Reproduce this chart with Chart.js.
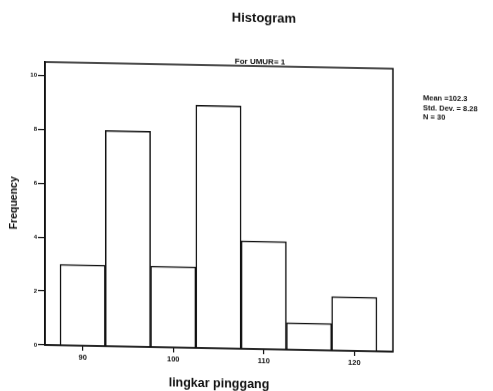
<!DOCTYPE html>
<html>
<head>
<meta charset="utf-8">
<script src="https://cdn.jsdelivr.net/npm/chart.js@4/dist/chart.umd.min.js"></script>
<style>
    html, body { margin: 0; padding: 0; background: #fff; overflow: hidden; }
    #wrap { width: 493px; height: 391px; }
    /* the printed page sits slightly askew */
    #chart { transform: skewY(1.1deg); transform-origin: 45px 0; }
</style>
</head>
<body>
<div id="wrap"><canvas id="chart" width="493" height="391"></canvas></div>
<script>
// bin midpoints (cm) and counts per bin
const binCenters = [90, 95, 100, 105, 110, 115, 120];
const counts = [3, 8, 3, 9, 4, 1, 2];
const xTicks = [90, 100, 110, 120];
const yTicks = [0, 2, 4, 6, 8, 10];
const statsLines = ['Mean =102.3', 'Std. Dev. = 8.28', 'N = 30'];

const FONT = '"Liberation Sans", Arial, sans-serif';

// frame around the plot plus the header and summary texts
const framePlugin = {
    id: 'frame',
    afterDraw(chart) {
        const { ctx, chartArea: a } = chart;
        ctx.save();
        ctx.strokeStyle = '#111';
        ctx.lineWidth = 1.5;
        ctx.strokeRect(a.left, a.top, a.right - a.left, a.bottom - a.top);

        ctx.fillStyle = '#111';
        ctx.textBaseline = 'middle';
        ctx.textAlign = 'center';
        ctx.font = 'bold 13px ' + FONT;
        ctx.fillText('Histogram', 264, 14);
        ctx.font = 'bold 8px ' + FONT;
        ctx.fillText('For UMUR= 1', 260, 58);

        ctx.textAlign = 'left';
        ctx.font = 'bold 7.5px ' + FONT;
        statsLines.forEach((s, i) => ctx.fillText(s, 423, 91 + i * 9.5));
        ctx.restore();
    }
};

new Chart(document.getElementById('chart'), {
    type: 'bar',
    data: {
        datasets: [{
            data: binCenters.map((x, i) => ({ x: x, y: counts[i] })),
            backgroundColor: '#fff',
            borderColor: '#111',
            borderWidth: 1.5,
            barPercentage: 1,
            categoryPercentage: 1,
        }],
    },
    options: {
        responsive: false,
        animation: false,
        layout: { padding: { top: 62, right: 100, left: 0, bottom: 0 } },
        plugins: {
            legend: { display: false },
            tooltip: { enabled: false },
        },
        scales: {
            x: {
                type: 'linear',
                offset: false,
                min: 85.84,
                max: 124.27,
                afterBuildTicks: (scale) => { scale.ticks = xTicks.map(v => ({ value: v })); },
                afterFit: (scale) => { scale.height = 46; },
                grid: { offset: false, drawOnChartArea: false, drawTicks: true, tickLength: 5, color: '#111', lineWidth: 1.2 },
                border: { color: '#111', width: 1.5 },
                ticks: { color: '#111', font: { family: FONT, size: 7.5, weight: 'bold' }, padding: 2 },
                title: {
                    display: true,
                    text: 'lingkar pinggang',
                    color: '#111',
                    font: { family: FONT, size: 12.5, weight: 'bold' },
                    padding: { top: 0, bottom: 3 },
                },
            },
            y: {
                min: 0,
                max: 10.5,
                afterBuildTicks: (scale) => { scale.ticks = yTicks.map(v => ({ value: v })); },
                afterFit: (scale) => { scale.width = 45; },
                grid: { drawOnChartArea: false, drawTicks: true, tickLength: 7, color: '#111', lineWidth: 1.2 },
                border: { color: '#111', width: 1.5 },
                ticks: { color: '#111', font: { family: FONT, size: 6, weight: 'bold' }, padding: 1 },
                title: {
                    display: true,
                    text: 'Frequency',
                    color: '#111',
                    font: { family: FONT, size: 10.5, weight: 'bold' },
                    padding: { top: 8, bottom: 0 },
                },
            },
        },
    },
    plugins: [framePlugin],
});
</script>
</body>
</html>
